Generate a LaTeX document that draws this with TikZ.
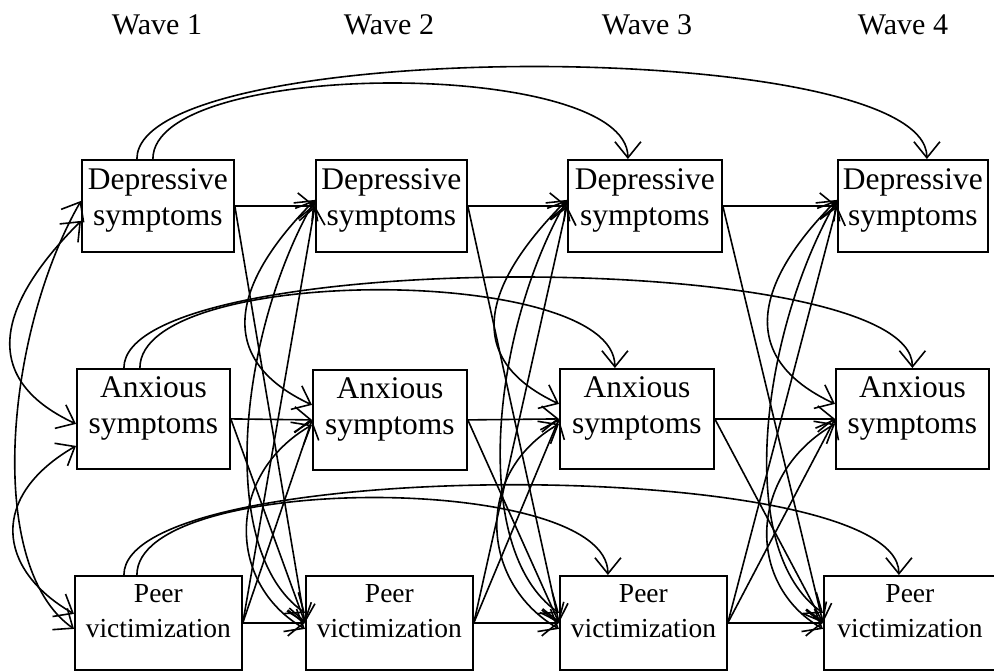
\documentclass[tikz,border=0pt]{standalone}
\usepackage{fontspec}
\setmainfont{Liberation Serif}
\usetikzlibrary{arrows.meta}
\tikzset{
  box/.style={draw, line width=1.8pt, inner sep=0pt, anchor=north west},
  txtD/.style={anchor=base, inner sep=0pt, font=\fontsize{31.5}{36}\selectfont},
  txtA/.style={txtD},
  txtP/.style={anchor=base, inner sep=0pt, font=\fontsize{27.5}{33}\selectfont},
  firstD/.style={yshift=-30pt}, secondD/.style={yshift=-66pt},
  firstA/.style={yshift=-29pt}, secondA/.style={yshift=-65pt},
  firstP/.style={yshift=-27pt}, secondP/.style={yshift=-62pt},
  wave/.style={anchor=base, inner sep=0pt, font=\fontsize{30}{36}\selectfont},
  arr/.style={line width=1.6pt, -{Straight Barb[length=16pt,width=26pt]}},
  cov/.style={line width=1.6pt, {Straight Barb[length=16pt,width=26pt]}-{Straight Barb[length=16pt,width=26pt]}},
  covDA/.style={cov, out=225, in=155, out distance=115pt, in distance=110pt},
  covDP/.style={cov, out=240, in=145, out distance=150pt, in distance=110pt},
  covAP/.style={cov, out=210, in=150, out distance=100pt, in distance=90pt},
}
\newcommand\mkbox[8]{%
  \node[box, minimum width=#4pt, minimum height=#5pt] (#1) at (#2,-#3) {};
  \node[txt#8, first#8] (#1-l1) at (#1.north) {#6};
  \node[txt#8, second#8] (#1-l2) at (#1.north) {#7};
}
\begin{document}
\begin{tikzpicture}[x=1pt, y=1pt]
\useasboundingbox (0,0) rectangle (994,-670);

% wave labels
\node[wave] (w1) at (157,-34) {Wave 1};
\node[wave] (w2) at (389,-34) {Wave 2};
\node[wave] (w3) at (647,-34) {Wave 3};
\node[wave] (w4) at (903,-34) {Wave 4};

% boxes
\mkbox{d1}{81}{159}{152}{92}{Depressive}{symptoms}{D}
\mkbox{d2}{315}{159}{151}{92}{Depressive}{symptoms}{D}
\mkbox{d3}{567}{159}{154}{92}{Depressive}{symptoms}{D}
\mkbox{d4}{837}{159}{150}{92}{Depressive}{symptoms}{D}
\mkbox{a1}{76}{368}{153}{100}{Anxious}{symptoms}{A}
\mkbox{a2}{312}{369}{154}{100}{Anxious}{symptoms}{A}
\mkbox{a3}{559}{368}{154}{100}{Anxious}{symptoms}{A}
\mkbox{a4}{835}{368}{153}{100}{Anxious}{symptoms}{A}
\mkbox{p1}{74}{575}{167}{94}{Peer}{victimization}{P}
\mkbox{p2}{305}{575}{167}{94}{Peer}{victimization}{P}
\mkbox{p3}{559}{575}{167}{94}{Peer}{victimization}{P}
\mkbox{p4}{823}{575}{172}{94}{Peer}{victimization}{P}

% lag-2 arcs
\draw[arr] ([xshift=-21pt]d1.north) to[out=90,in=90,distance=123pt] ([xshift=14pt]d4.north);
\draw[arr] ([xshift=-5pt]d1.north) to[out=90,in=90,distance=101pt] ([xshift=-17pt]d3.north);
\draw[arr] ([xshift=-29.5pt]a1.north) to[out=90,in=90,distance=121pt] (a4.north);
\draw[arr] ([xshift=-13.5pt]a1.north) to[out=90,in=90,distance=104pt] ([xshift=-22pt]a3.north);
\draw[arr] ([xshift=-34.5pt]p1.north) to[out=90,in=90,distance=120pt] ([xshift=-11pt]p4.north);
\draw[arr] ([xshift=-21.5pt]p1.north) to[out=90,in=90,distance=103pt] ([xshift=-35.5pt]p3.north);

% lag-1 paths
\foreach \t/\n in {1/2, 2/3, 3/4} {
  \draw[arr] (d\t.east) -- (d\n.west);
  \draw[arr] (a\t.east) -- (a\n.west);
  \draw[arr] (p\t.east) -- (p\n.west);
  \draw[arr] (d\t.east) -- (p\n.west);
  \draw[arr] (a\t.east) -- (p\n.west);
  \draw[arr] (p\t.east) -- (d\n.west);
  \draw[arr] (p\t.east) -- (a\n.west);
}

% wave 1 covariances
\draw[covDA] ([yshift=-15pt]d1.west) to ([yshift=-5pt]a1.west);
\draw[covDP] ([yshift=5pt]d1.west) to ([yshift=-6pt]p1.west);
\draw[covAP] ([yshift=-27pt]a1.west) to ([yshift=9pt]p1.west);

% waves 2-4 covariances
\foreach \w in {2,3,4} {
  \draw[covDA] ([yshift=6pt]d\w.west) to ([yshift=15pt]a\w.west);
  \draw[covDP] ([yshift=6pt]d\w.west) to ([yshift=10pt]p\w.west);
  \draw[covAP] ([yshift=-5pt]a\w.west) to ([yshift=-6pt]p\w.west);
}
\end{tikzpicture}
\end{document}
